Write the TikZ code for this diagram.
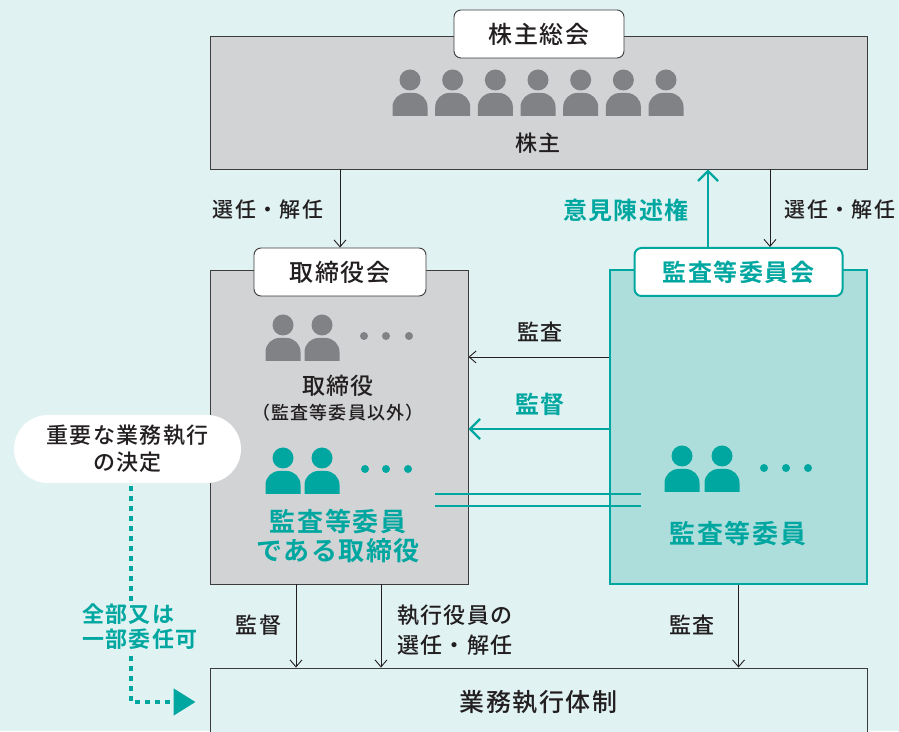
\documentclass[tikz,border=0pt]{standalone}
\usepackage{fontspec}
\setmainfont{Noto Sans CJK JP Medium}[BoldFont={Noto Sans CJK JP Bold},LetterSpace=6]
\usetikzlibrary{arrows.meta,calc}
\definecolor{bgteal}{RGB}{224,242,242}
\definecolor{boxgray}{RGB}{209,211,212}
\definecolor{icongray}{RGB}{128,130,133}
\definecolor{edgegray}{RGB}{60,60,60}
\definecolor{kteal}{RGB}{0,167,160}
\definecolor{lteal}{RGB}{174,222,220}
\definecolor{ink}{RGB}{35,31,32}
\tikzstyle{graybox}=[draw=edgegray,line width=0.9pt,fill=boxgray,inner sep=0pt]
\tikzstyle{tealbox}=[draw=kteal,line width=1.8pt,fill=lteal,inner sep=0pt]
\tikzstyle{tag}=[draw=edgegray,line width=0.9pt,fill=white,rounded corners=7pt,minimum height=48pt,inner sep=0pt,text=ink,font=\fontsize{24}{28}\selectfont]
\tikzstyle{tealtag}=[tag,draw=kteal,line width=2pt,text=kteal,font=\fontsize{24}{28}\selectfont\bfseries]
\tikzstyle{edge}=[draw=ink,line width=0.9pt,-{Straight Barb[length=7pt,width=12pt]}]
\tikzstyle{tealedge}=[draw=kteal,line width=2.2pt,-{Straight Barb[length=10pt,width=20pt]}]
\tikzstyle{note}=[text=ink,inner sep=0pt,align=center,font=\fontsize{21}{30}\selectfont]
\tikzstyle{tealnote}=[note,text=kteal,font=\fontsize{24}{28}\selectfont\bfseries]
\newcommand{\personicon}[3]{%
  \fill[#3] (#1,#2) circle (10.5);
  \fill[#3] (#1-17.5,#2-36) -- (#1-17.5,#2-27) arc[start angle=180,end angle=90,radius=14]
    -- (#1+3.5,#2-13) arc[start angle=90,end angle=0,radius=14] -- (#1+17.5,#2-36) -- cycle;}

\begin{document}
\begin{tikzpicture}[x=1pt,y=1pt]
\useasboundingbox (0,0) rectangle (899,731);
\fill[bgteal] (0,0) rectangle (899,731);

% boxes
\node[graybox,minimum width=657pt,minimum height=133pt] (kabunushi) at (538.5,628.5) {};
\node[tag,minimum width=170pt] (soukai) at (539,697) {株主総会};
\node[note,font=\fontsize{22}{26}\selectfont] (kabu) at (538,588) {株主};

\node[graybox,minimum width=258pt,minimum height=314pt] (torishimari) at (339,304) {};
\node[tag,minimum width=172pt] (tkai) at (340,459) {取締役会};
\node[tealbox,minimum width=257pt,minimum height=314pt] (kansa) at (738.5,304) {};
\node[tealtag,minimum width=208pt] (kkai) at (738.5,459) {監査等委員会};

\node[graybox,fill=bgteal,minimum width=657pt,minimum height=68pt,text=ink,font=\fontsize{25}{28}\selectfont] (gyomu) at (538.5,29) {業務執行体制};
\node[fill=white,rounded corners=34pt,minimum width=227pt,minimum height=68pt,inner sep=0pt,text=ink,align=center,font=\fontsize{22}{27}\selectfont] (juyo) at (127.5,282) {重要な業務執行\\の決定};

% people and dots
\foreach \i in {0,...,6}
    \personicon{410+\i*42.67}{651}{icongray};
\foreach \x/\y/\col in {283/406/icongray, 322/406/icongray, 283/273/kteal, 322/273/kteal, 682/275/kteal, 722/275/kteal}
    \personicon{\x}{\y}{\col};
\foreach \x/\y/\col in {364/395/icongray, 386/395/icongray, 409/395/icongray, 365/262/kteal, 386/262/kteal, 408/262/kteal, 764/263/kteal, 786/263/kteal, 808/263/kteal}
    \fill[\col] (\x,\y) circle (4);

\node[note,font=\fontsize{23}{27}\selectfont] (tori) at (338,345) {取締役};
\node[note,font=\fontsize{18}{22}\selectfont] (igai) at (338,318) {（監査等委員以外）};
\node[tealnote,font=\fontsize{26}{29}\selectfont\bfseries] (kdir) at (338,194.5) {監査等委員\\である取締役};
\node[tealnote,font=\fontsize{26}{29}\selectfont\bfseries] (kiin) at (738,197) {監査等委員};

% connectors
\draw[edge] (kabunushi.south -| tkai.north) -- (tkai.north);
\draw[edge] ($(kkai.north |- kabunushi.south)+(31.5,0)$) -- ($(kkai.north)+(31.5,0)$);
\draw[tealedge] ($(kkai.north)+(-30.5,0)$) -- ($(kkai.north |- kabunushi.south)+(-30.5,0)$);
\draw[edge] ($(kansa.west)+(0,70)$) -- ($(torishimari.east)+(0,70)$);
\draw[tealedge] ($(kansa.west)+(0,-2)$) -- ($(torishimari.east)+(0,-2)$);
\foreach \dy in {-67,-79}
    \draw[kteal,line width=2.8pt] ($(torishimari.east)+(-33,\dy)$) -- ($(kansa.west)+(32,\dy)$);
\foreach \dx in {-43,42}
    \draw[edge] ($(torishimari.south)+(\dx,0)$) -- ($(torishimari.south |- gyomu.north)+(\dx,0)$);
\draw[edge] (kansa.south) -- (kansa.south |- gyomu.north);
\draw[kteal,line width=4.5pt,dash pattern=on 5pt off 5pt,-{Triangle[length=22pt,width=26pt]}] ($(juyo.south)+(3.5,-3)$) |- ($(gyomu.west)+(-14,0)$);

% labels
\node[note] (sen1) at (268,521) {選任・解任};
\node[tealnote] (iken) at (626,521) {意見陳述権};
\node[note] (sen2) at (840,521) {選任・解任};
\node[note,font=\fontsize{22}{26}\selectfont] (kansa1) at (540,399) {監査};
\node[tealnote] (kantoku1) at (540,327) {監督};
\node[note,font=\fontsize{22}{26}\selectfont] (kantoku2) at (258.5,106) {監督};
\node[note,align=left,anchor=west,font=\fontsize{22}{30}\selectfont] (shikko) at (397,101) {執行役員の\\選任・解任};
\node[note,font=\fontsize{22}{26}\selectfont] (kansa2) at (692,106) {監査};
\node[tealnote,fill=bgteal,align=left,anchor=west,inner sep=2pt,font=\fontsize{22}{25}\selectfont\bfseries] (inin) at (80,104) {全部又は\\一部委任可};
\end{tikzpicture}
\end{document}
